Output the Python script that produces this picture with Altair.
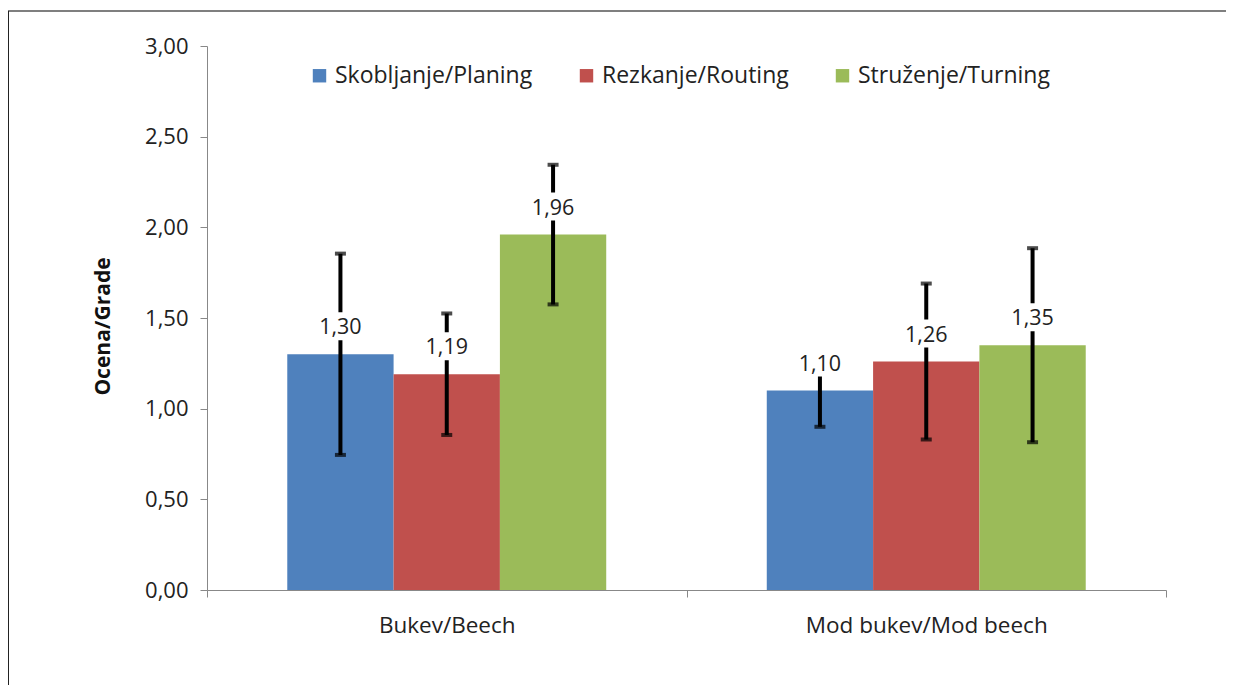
import altair as alt
import pandas as pd

categories = ["Bukev/Beech", "Mod bukev/Mod beech"]
processes = ["Skobljanje/Planing", "Rezkanje/Routing", "Struženje/Turning"]
colors = ["#4F81BD", "#C0504D", "#9BBB59"]
means_beech = [1.30, 1.19, 1.96]
means_mod = [1.10, 1.26, 1.35]
err_beech = [0.555, 0.335, 0.385]
err_mod = [0.20, 0.43, 0.535]

rows = []
for cat, means, errs in [(categories[0], means_beech, err_beech), (categories[1], means_mod, err_mod)]:
    for p, m, e in zip(processes, means, errs):
        rows.append({"cat": cat, "proc": p, "mean": m, "err": e,
                     "label": f"{m:.2f}".replace(".", ",")})
df = pd.DataFrame(rows)

FONT = "Open Sans"

x_enc = alt.X("cat:N", sort=categories,
              scale=alt.Scale(paddingInner=0, paddingOuter=0),
              axis=alt.Axis(title=None, labelAngle=0, tickBand="extent",
                            domainColor="#888888", tickColor="#888888",
                            tickSize=7, labelFontSize=22.5, labelFont=FONT,
                            labelColor="#222222", labelPadding=17, labelLimit=0))
xo_enc = alt.XOffset("proc:N", sort=processes,
                     scale=alt.Scale(domain=processes, paddingInner=0, paddingOuter=0.755))

base = alt.Chart(df).encode(x=x_enc, xOffset=xo_enc)

bars = base.mark_bar(stroke=None).encode(
    y=alt.Y("mean:Q", scale=alt.Scale(domain=[0, 3], nice=False),
            axis=alt.Axis(title="Ocena/Grade", values=[0, 0.5, 1, 1.5, 2, 2.5, 3],
                          grid=False, domainColor="#888888", tickColor="#888888",
                          tickSize=7, labelFontSize=22, labelFont=FONT,
                          labelColor="#222222", labelPadding=12,
                          labelExpr="replace(format(datum.value, '.2f'), '.', ',')",
                          titleFont=FONT, titleFontSize=21, titleFontWeight="bold",
                          titleColor="#111111", titleX=-104, titleY=280,
                          titleBaseline="middle")),
    color=alt.Color("proc:N", sort=processes,
                    scale=alt.Scale(domain=processes, range=colors),
                    legend=alt.Legend(orient="none", legendX=101, legendY=18,
                                      direction="horizontal", title=None,
                                      symbolType="square", symbolSize=180,
                                      symbolStrokeWidth=0, labelFontSize=23,
                                      labelFont=FONT, labelColor="#222222",
                                      columnPadding=42, labelOffset=4, labelLimit=0)),
)

err_base = base.transform_calculate(lo="datum.mean - datum.err", hi="datum.mean + datum.err")

err_rule = err_base.mark_rule(color="black", strokeWidth=4).encode(
    y="lo:Q", y2="hi:Q")
cap_lo = err_base.mark_tick(color="black", size=11, thickness=4).encode(y="lo:Q")
cap_hi = err_base.mark_tick(color="black", size=11, thickness=4).encode(y="hi:Q")

label_box = base.mark_tick(color="white", size=52, thickness=28, yOffset=-28, opacity=1).encode(
    y="mean:Q")
labels = base.mark_text(dy=-26, fontSize=21.5, font=FONT, color="#222222",
                        baseline="middle").encode(y="mean:Q", text="label:N")

frame_df = pd.DataFrame({"a": [0]})
frame_top = alt.Chart(frame_df).mark_rule(color="#7f7f7f", strokeWidth=2).encode(
    x=alt.value(-199), x2=alt.value(1030), y=alt.value(-35))
frame_left = alt.Chart(frame_df).mark_rule(color="#222222", strokeWidth=2).encode(
    x=alt.value(-199), y=alt.value(-35), y2=alt.value(640))

chart = alt.layer(bars, err_rule, cap_lo, cap_hi, label_box, labels, frame_top, frame_left).properties(
    width=959, height=544,
    autosize=alt.AutoSizeParams(type="none"),
    padding={"left": 199, "top": 38, "right": 60, "bottom": 95},
).configure_view(stroke=None)

chart.save("out.html", embed_options={"renderer": "svg", "actions": False})
